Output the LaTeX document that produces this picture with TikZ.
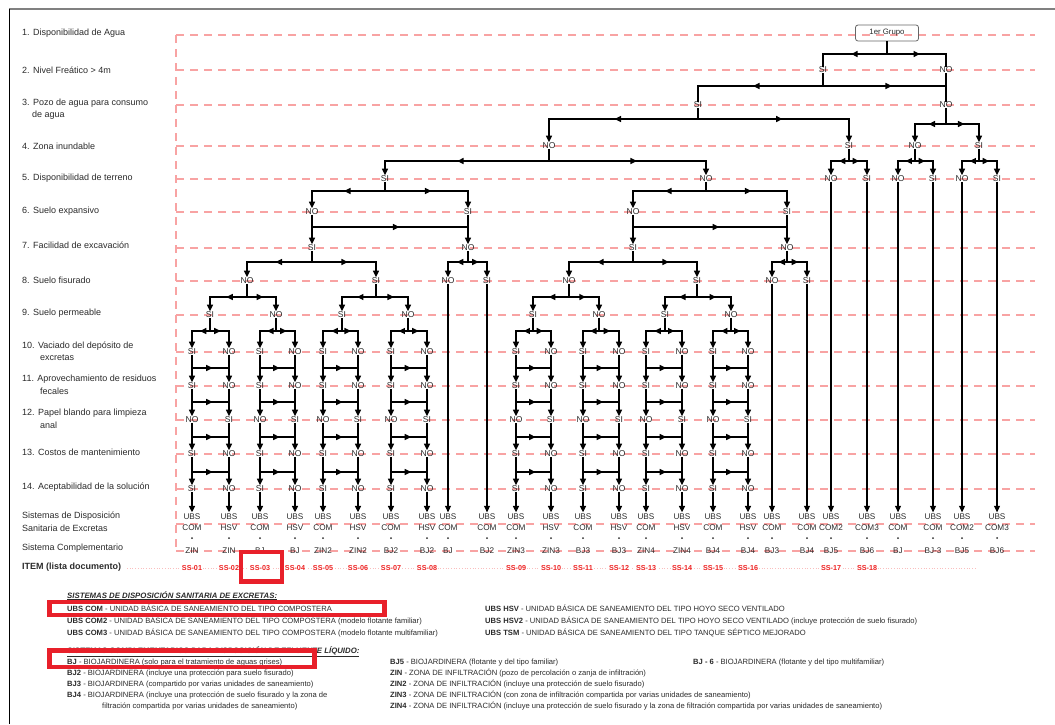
\documentclass[tikz,border=0pt]{standalone}
\usepackage{fontspec}
\setmainfont{Liberation Sans}
\usetikzlibrary{arrows.meta,decorations.markings}
\definecolor{gridred}{HTML}{F8A3A3}
\definecolor{boxred}{HTML}{E8202A}
\definecolor{ssred}{HTML}{EE2222}
\definecolor{txt}{HTML}{2A2A2A}
\newcommand\brsplit[5]{%
  \coordinate (brY) at (0,#4);
  \draw[ln] (#1.south) -- (#1 |- brY);
  \draw[ln,midar] (#1 |- brY) -- (#2 |- brY);
  \draw[ln,midar] (#1 |- brY) -- (#3 |- brY);
  \draw[ln,#5] (#2 |- brY) -- (#2.north);
  \draw[ln,#5] (#3 |- brY) -- (#3.north);
}
\begin{document}
\begin{tikzpicture}[x=1pt,y=-1pt,
  ln/.style={line width=1.5pt, black, line cap=rect},
  arw/.style={-{Triangle[length=6.5pt,width=6pt]}},
  midar/.style={postaction={decorate},decoration={markings,mark=at position 0.56 with {\arrow{Triangle[length=6.5pt,width=6pt]}}}},
  lbl/.style={font=\fontsize{8.5}{10}\selectfont, inner sep=0.6pt, text=txt},
  rowlbl/.style={font=\fontsize{9}{11}\selectfont, anchor=west, inner sep=0pt, text=txt},
  ubs/.style={font=\fontsize{8.2}{11.5}\selectfont, align=center, inner sep=0.8pt, text=txt},
  comp/.style={font=\fontsize{8.2}{10}\selectfont, inner sep=1pt, text=txt},
  ss/.style={font=\fontsize{7.2}{8}\selectfont\bfseries, text=ssred, inner sep=1pt, fill=white},
  rowline/.style={gridred, line width=1.3pt, dash pattern=on 8pt off 6pt},
  leg/.style={font=\fontsize{7.6}{9}\selectfont, anchor=base west, inner sep=0pt, text=txt},
  head/.style={font=\fontsize{7.8}{9}\selectfont\bfseries\itshape, anchor=base west, inner sep=0pt, text=txt},
  redbox/.style={boxred, line width=4.8pt},
]
\useasboundingbox (0,0) rectangle (1055,724);
% frame
\draw[gray, line width=1.3pt] (9,9) -- (1055,9);
\draw[black, line width=1pt] (9,9) -- (9,724);
% row guide lines
\foreach \yy in {35,70,105,146,179,212,248,281,315,352,386,420,454,489,524,551}
  \draw[rowline] (176,\yy) -- (1035,\yy);
\draw[rowline] (176,35) -- (176,551);
\draw[gridred!70, line width=0.7pt, dotted] (127,568) -- (975,568);
% row labels
\node[rowlbl] (t1) at (22,33) {1. Disponibilidad de Agua};
\node[rowlbl] (t2) at (22,70) {2. Nivel Freático > 4m};
\node[rowlbl] (t3) at (22,103) {3. Pozo de agua para consumo};
\node[rowlbl] (t3b) at (32,115) {de agua};
\node[rowlbl] (t4) at (22,146) {4. Zona inundable};
\node[rowlbl] (t5) at (22,178) {5. Disponibilidad de terreno};
\node[rowlbl] (t6) at (22,211) {6. Suelo expansivo};
\node[rowlbl] (t7) at (22,245) {7. Facilidad de excavación};
\node[rowlbl] (t8) at (22,280) {8. Suelo fisurado};
\node[rowlbl] (t9) at (22,313) {9. Suelo permeable};
\node[rowlbl] (t10) at (22,346) {10. Vaciado del depósito de};
\node[rowlbl] (t10b) at (40,358) {excretas};
\node[rowlbl] (t11) at (22,379) {11. Aprovechamiento de residuos};
\node[rowlbl] (t11b) at (40,391) {fecales};
\node[rowlbl] (t12) at (22,413) {12. Papel blando para limpieza};
\node[rowlbl] (t12b) at (40,425) {anal};
\node[rowlbl] (t13) at (22,452) {13. Costos de mantenimiento};
\node[rowlbl] (t14) at (22,487) {14. Aceptabilidad de la solución};
\node[rowlbl] (t15) at (22,516) {Sistemas de Disposición};
\node[rowlbl] (t15b) at (22,528) {Sanitaria de Excretas};
\node[rowlbl] (t16) at (22,548) {Sistema Complementario};
\node[rowlbl,font=\fontsize{9}{11}\selectfont\bfseries] (t17) at (22,567) {ITEM (lista documento)};
% result columns
\foreach \x/\t/\c in {192/COM/ZIN,229/HSV/ZIN,260/COM/BJ,295/HSV/BJ,323/COM/ZIN2,358/HSV/ZIN2,391/COM/BJ2,427/HSV/BJ2,448/COM/BJ,487/COM/BJ2,516/COM/ZIN3,551/HSV/ZIN3,583/COM/BJ3,619/HSV/BJ3,646/COM/ZIN4,682/HSV/ZIN4,713/COM/BJ4,748/HSV/BJ4,772/COM/BJ3,807/COM/BJ4,831/COM2/BJ5,867/COM3/BJ6,898/COM/BJ,933/COM/BJ-3,962/COM2/BJ5,997/COM3/BJ6}{
  \node[ubs] (u\x) at (\x,522) {UBS\\\t};
  \fill[txt] (\x,538) circle (1pt);
  \node[comp] (z\x) at (\x,551) {\c};
}
\foreach \x/\s in {192/01,229/02,260/03,295/04,323/05,358/06,391/07,427/08,516/09,551/10,583/11,619/12,646/13,682/14,713/15,748/16,831/17,867/18}
  \node[ss] (s\x) at (\x,568) {SS-\s};
% tree nodes
\node[draw=gray!80!black, rounded corners=2.5pt, minimum width=63pt, minimum height=16pt, inner sep=1pt, line width=0.8pt, font=\fontsize{7.8}{9}\selectfont, text=txt] (root) at (887,33) {1er Grupo};
\node[lbl] (a2s) at (823,70) {SI};
\node[lbl] (a2n) at (946,70) {NO};
\node[lbl] (a3s) at (698,105) {SI};
\node[lbl] (a3n) at (946,105) {NO};
\node[lbl] (a4a) at (549,146) {NO};
\node[lbl] (a4b) at (849,146) {SI};
\node[lbl] (a4c) at (915,146) {NO};
\node[lbl] (a4d) at (979,146) {SI};
\node[lbl] (a5a) at (385,179) {SI};
\node[lbl] (a5b) at (706,179) {NO};
\node[lbl] (a5c) at (831,179) {NO};
\node[lbl] (a5d) at (867,179) {SI};
\node[lbl] (a5e) at (898,179) {NO};
\node[lbl] (a5f) at (933,179) {SI};
\node[lbl] (a5g) at (962,179) {NO};
\node[lbl] (a5h) at (997,179) {SI};
\node[lbl] (a6a) at (312,212) {NO};
\node[lbl] (a6b) at (468,212) {SI};
\node[lbl] (a6c) at (633,212) {NO};
\node[lbl] (a6d) at (787,212) {SI};
\node[lbl] (a7a) at (312,248) {SI};
\node[lbl] (a7b) at (468,248) {NO};
\node[lbl] (a7c) at (633,248) {SI};
\node[lbl] (a7d) at (787,248) {NO};
\node[lbl] (a8a) at (247,281) {NO};
\node[lbl] (a8b) at (376,281) {SI};
\node[lbl] (a8c) at (448,281) {NO};
\node[lbl] (a8d) at (487,281) {SI};
\node[lbl] (a8e) at (569,281) {NO};
\node[lbl] (a8f) at (697,281) {SI};
\node[lbl] (a8g) at (772,281) {NO};
\node[lbl] (a8h) at (807,281) {SI};
\node[lbl] (a9a) at (210,315) {SI};
\node[lbl] (a9b) at (276,315) {NO};
\node[lbl] (a9c) at (342,315) {SI};
\node[lbl] (a9d) at (408,315) {NO};
\node[lbl] (a9e) at (533,315) {SI};
\node[lbl] (a9f) at (599,315) {NO};
\node[lbl] (a9g) at (665,315) {SI};
\node[lbl] (a9h) at (731,315) {NO};
% tree connectors
\brsplit{root}{a2s}{a2n}{54}{}
\brsplit{a2s}{a3s}{a3n}{86}{}
\draw[ln] (a2n) -- (a3n);
\brsplit{a3s}{a4a}{a4b}{119}{arw}
\brsplit{a3n}{a4c}{a4d}{124}{arw}
\brsplit{a4a}{a5a}{a5b}{161}{arw}
\brsplit{a4b}{a5c}{a5d}{161}{arw}
\brsplit{a4c}{a5e}{a5f}{161}{arw}
\brsplit{a4d}{a5g}{a5h}{161}{arw}
\brsplit{a5a}{a6a}{a6b}{191}{arw}
\brsplit{a5b}{a6c}{a6d}{191}{arw}
\coordinate (c67) at (0,227);
\draw[ln,arw] (a6a) -- (a7a);
\draw[ln,arw] (a6b) -- (a7b);
\draw[ln,midar] (a6a |- c67) -- (a6b |- c67);
\draw[ln,arw] (a6c) -- (a7c);
\draw[ln,arw] (a6d) -- (a7d);
\draw[ln,midar] (a6c |- c67) -- (a6d |- c67);
\brsplit{a7a}{a8a}{a8b}{262}{arw}
\brsplit{a7b}{a8c}{a8d}{262}{arw}
\brsplit{a7c}{a8e}{a8f}{262}{arw}
\brsplit{a7d}{a8g}{a8h}{262}{arw}
\brsplit{a8a}{a9a}{a9b}{297}{arw}
\brsplit{a8b}{a9c}{a9d}{297}{arw}
\brsplit{a8e}{a9e}{a9f}{297}{arw}
\brsplit{a8f}{a9g}{a9h}{297}{arw}
% lower ladders
\foreach \ii/\xl/\xr/\pn in {1/192/229/a9a,2/260/295/a9b,3/323/358/a9c,4/391/427/a9d,5/516/551/a9e,6/583/619/a9f,7/646/682/a9g,8/713/748/a9h}{
  \foreach \rw/\yy/\tl/\tr in {10/352/SI/NO,11/386/SI/NO,12/420/NO/SI,13/454/SI/NO,14/489/SI/NO}{
    \node[lbl] (L\ii x\rw) at (\xl,\yy) {\tl};
    \node[lbl] (R\ii x\rw) at (\xr,\yy) {\tr};
  }
  \brsplit{\pn}{L\ii x10}{R\ii x10}{331}{arw}
  \foreach \rw/\nx/\my in {10/11/368,11/12/402,12/13/437,13/14/472}{
    \draw[ln,arw] (L\ii x\rw) -- (L\ii x\nx);
    \draw[ln,arw] (R\ii x\rw) -- (R\ii x\nx);
    \coordinate (cm) at (0,\my);
    \draw[ln,midar] (L\ii x\rw |- cm) -- (R\ii x\rw |- cm);
  }
  \draw[ln,arw] (L\ii x14) -- (u\xl);
  \draw[ln,arw] (R\ii x14) -- (u\xr);
}
% long leaves
\foreach \a/\b in {a8c/448,a8d/487,a8g/772,a8h/807,a5c/831,a5d/867,a5e/898,a5f/933,a5g/962,a5h/997}
  \draw[ln,arw,line width=1.2pt] (\a) -- (u\b);
% legend
\node[head] (h1) at (67,598) {\underline{SISTEMAS DE DISPOSICIÓN SANITARIA DE EXCRETAS:}};
\node[leg] (g1) at (67,611) {\textbf{UBS COM} - UNIDAD BÁSICA DE SANEAMIENTO DEL TIPO COMPOSTERA};
\node[leg] (g2) at (67,623) {\textbf{UBS COM2} - UNIDAD BÁSICA DE SANEAMIENTO DEL TIPO COMPOSTERA (modelo flotante familiar)};
\node[leg] (g3) at (67,635) {\textbf{UBS COM3} - UNIDAD BÁSICA DE SANEAMIENTO DEL TIPO COMPOSTERA (modelo flotante multifamiliar)};
\node[leg] (g4) at (485,611) {\textbf{UBS HSV} - UNIDAD BÁSICA DE SANEAMIENTO DEL TIPO HOYO SECO VENTILADO};
\node[leg] (g5) at (485,623) {\textbf{UBS HSV2} - UNIDAD BÁSICA DE SANEAMIENTO DEL TIPO HOYO SECO VENTILADO (incluye protección de suelo fisurado)};
\node[leg] (g6) at (485,635) {\textbf{UBS TSM} - UNIDAD BÁSICA DE SANEAMIENTO DEL TIPO TANQUE SÉPTICO MEJORADO};
\node[head] (h2) at (67,653) {\underline{SISTEMAS COMPLEMENTARIOS PARA DISPOSICIÓN DE EFLUENTE LÍQUIDO:}};
\node[leg] (k1) at (67,664) {\textbf{BJ} - BIOJARDINERA (solo para el tratamiento de aguas grises)};
\node[leg] (k2) at (67,675) {\textbf{BJ2} - BIOJARDINERA (incluye una protección para suelo fisurado)};
\node[leg] (k3) at (67,686) {\textbf{BJ3} - BIOJARDINERA (compartido por varias unidades de saneamiento)};
\node[leg] (k4) at (67,697) {\textbf{BJ4} - BIOJARDINERA (incluye una protección de suelo fisurado y la zona de};
\node[leg] (k4b) at (102,708) {filtración compartida por varias unidades de saneamiento)};
\node[leg] (m1) at (390,664) {\textbf{BJ5} - BIOJARDINERA (flotante y del tipo familiar)};
\node[leg] (m2) at (390,675) {\textbf{ZIN} - ZONA DE INFILTRACIÓN (pozo de percolación o zanja de infiltración)};
\node[leg] (m3) at (390,686) {\textbf{ZIN2} - ZONA DE INFILTRACIÓN (incluye una protección de suelo fisurado)};
\node[leg] (m4) at (390,697) {\textbf{ZIN3} - ZONA DE INFILTRACIÓN (con zona de infiltración compartida por varias unidades de saneamiento)};
\node[leg] (m5) at (390,708) {\textbf{ZIN4} - ZONA DE INFILTRACIÓN (incluye una protección de suelo fisurado y la zona de filtración compartida por varias unidades de saneamiento)};
\node[leg] (m6) at (693,664) {\textbf{BJ - 6} - BIOJARDINERA (flotante y del tipo multifamiliar)};
% red highlight boxes
\draw[redbox] (241,552) rectangle (282,581.5);
\draw[redbox] (49.5,602) rectangle (384.5,615);
\draw[redbox] (49.5,650.5) rectangle (314.5,667);
\end{tikzpicture}
\end{document}
